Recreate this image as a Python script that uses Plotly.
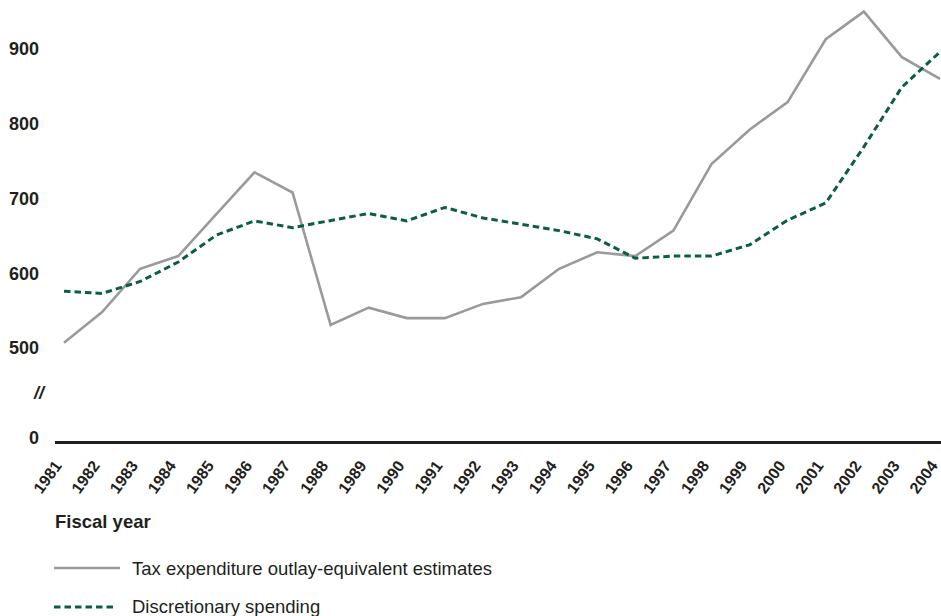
import plotly.graph_objects as go

years = list(range(1981, 2005))
year_labels = [str(y) for y in years]

tax_expenditure = [507, 548, 606, 623, 679, 735, 708, 531, 554, 540, 540, 559, 568, 606,
                   628, 623, 657, 746, 792, 829, 913, 950, 889, 860]
discretionary = [576, 573, 589, 615, 651, 670, 661, 670, 680, 670, 688, 674, 665, 657,
                 646, 620, 623, 623, 638, 671, 694, 769, 849, 896]

y_tick_vals = [379.5, 500, 600, 700, 800, 900]
y_tick_text = ["0", "500", "600", "700", "800", "900"]

series_names = ["Tax expenditure outlay-equivalent estimates", "Discretionary spending"]
gray = "#9a9a9c"
green = "#0b5e3f"
ink = "#231f20"
font_family = "Liberation Sans, Arial, sans-serif"
dash_style = "6.5px,4px"

fig = go.Figure()
fig.add_trace(go.Scatter(x=years, y=tax_expenditure, mode="lines", name=series_names[0],
                         line=dict(color=gray, width=2.6), showlegend=False))
fig.add_trace(go.Scatter(x=years, y=discretionary, mode="lines", name=series_names[1],
                         line=dict(color=green, width=3, dash=dash_style), showlegend=False))

W, H = 941, 616
L, R, T, B = 55, 0, 0, 175
pw, ph = W - L - R, H - T - B


def px_x(px):
    return (px - L) / pw


def px_y(py):
    return (H - B - py) / ph


# legend drawn manually (long line samples)
fig.add_shape(type="line", xref="paper", yref="paper", x0=px_x(54), x1=px_x(120),
              y0=px_y(568), y1=px_y(568), line=dict(color=gray, width=2.6))
fig.add_shape(type="line", xref="paper", yref="paper", x0=px_x(54), x1=px_x(114),
              y0=px_y(607), y1=px_y(607), line=dict(color=green, width=3, dash=dash_style))
fig.add_annotation(xref="paper", yref="paper", x=px_x(130), y=px_y(568), text=series_names[0],
                   showarrow=False, xanchor="left", yanchor="middle",
                   font=dict(family=font_family, size=18.5, color=ink))
fig.add_annotation(xref="paper", yref="paper", x=px_x(130), y=px_y(606), text=series_names[1],
                   showarrow=False, xanchor="left", yanchor="middle",
                   font=dict(family=font_family, size=18.5, color=ink))
fig.add_annotation(xref="paper", yref="paper", x=px_x(53), y=px_y(521), text="<b>Fiscal year</b>",
                   showarrow=False, xanchor="left", yanchor="middle",
                   font=dict(family=font_family, size=18.5, color=ink))
fig.add_annotation(xref="paper", yref="y", x=px_x(39), y=440, text="<b><i>//</i></b>",
                   showarrow=False, xanchor="center", yanchor="middle",
                   font=dict(family=font_family, size=18, color=ink))

fig.update_layout(
    width=W, height=H,
    margin=dict(l=L, r=R, t=T, b=B, pad=0),
    paper_bgcolor="white", plot_bgcolor="white",
    font=dict(family=font_family, color=ink),
    xaxis=dict(range=[1981 - 9 / 38.1, 2004 + 1 / 38.1], tickvals=years, ticktext=year_labels,
               tickangle=-54, showgrid=False, zeroline=False, showline=True,
               linecolor=ink, linewidth=3, ticks="", ticklabelstandoff=6,
               ticklabelshift=-8,
               ticklabeloverflow="allow", automargin=False,
               tickfont=dict(family=font_family, size=16, color=ink, weight="bold")),
    yaxis=dict(range=[375.6, 965.5], tickvals=y_tick_vals, ticktext=y_tick_text,
               showgrid=False, zeroline=False, showline=False, ticks="",
               ticklabelstandoff=15, automargin=False,
               tickfont=dict(family=font_family, size=18, color=ink, weight="bold")),
)

fig.write_html("out.html", config={"displayModeBar": False},
               post_script="document.body.style.margin='0';document.body.style.overflow='hidden';")
